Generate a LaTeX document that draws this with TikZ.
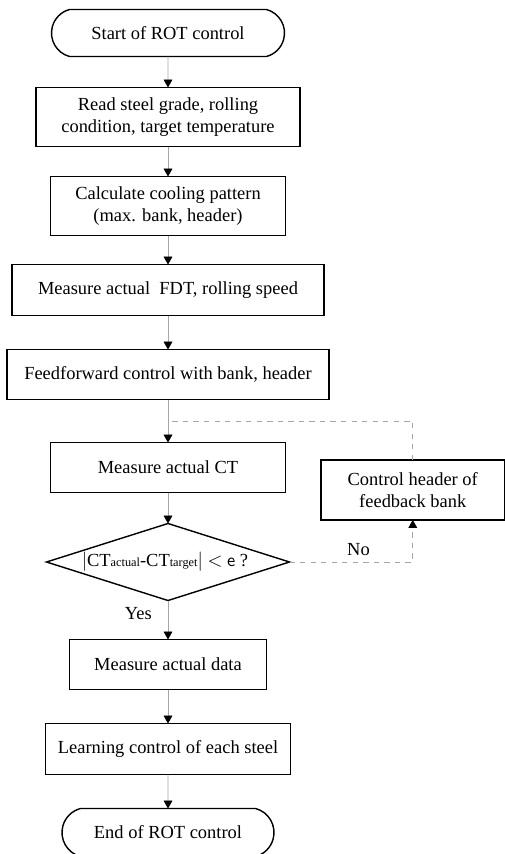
\documentclass[tikz,border=0pt]{standalone}
\usepackage{fontspec}
\setmainfont{Liberation Serif}
\usetikzlibrary{arrows.meta, calc, positioning, shapes.geometric, shapes.misc}

\tikzset{
	box/.style={draw, line width=0.8pt, align=center, inner sep=0pt, outer sep=0pt},
	term/.style={box, rounded rectangle, rounded rectangle arc length=150},
	test/.style={box, diamond, aspect=3.15},
	flow/.style={draw=black!35, line width=0.4pt, -{Triangle[length=4.5pt, width=5pt, black]}},
	back/.style={draw=black!35, line width=0.4pt, dashed},
}

\begin{document}
\begin{tikzpicture}[font=\fontsize{10.5}{12.5}\selectfont]

\useasboundingbox (0,0) rectangle (10.1,-17.08);

\node [term, minimum width=4.66cm, minimum height=0.94cm] (start) at (3.36,-0.66) {Start of ROT control};

\node [box, minimum width=5.28cm, minimum height=1.18cm, below=0.62cm of start] (read) {
	Read steel grade, rolling \\
	condition, target temperature
};

\node [box, minimum width=4.7cm, minimum height=1.18cm, below=0.6cm of read] (pattern) {
	Calculate cooling pattern \\
	(max. bank, header)
};

\node [box, minimum width=6.24cm, minimum height=1.02cm, below=0.58cm of pattern] (fdt) {Measure actual\ \ FDT, rolling speed};

\node [box, minimum width=6.44cm, minimum height=1.0cm, below=0.68cm of fdt] (ffwd) {Feedforward control with bank, header};

\node [box, minimum width=4.7cm, minimum height=1.0cm, below=0.86cm of ffwd] (ct) {Measure actual CT};

\node [test, minimum width=4.86cm, minimum height=1.54cm, below=0.62cm of ct] (check) {
	$|$CT{\scriptsize actual}-CT{\scriptsize target}$|$ $<$ {\sffamily e} ?
};

\node [box, minimum width=3.94cm, minimum height=1.0cm, below=0.78cm of check] (data) {Measure actual data};

\node [box, minimum width=4.9cm, minimum height=1.02cm, below=0.68cm of data] (learn) {Learning control of each steel};

\node [term, minimum width=4.24cm, minimum height=0.96cm, below=0.68cm of learn] (end) {End of ROT control};

\node [box, minimum width=3.67cm, minimum height=1.2cm] (fback) at (8.255,-9.8) {
	Control header of \\
	feedback bank
};

% main line
\draw [flow] (start) -- (read);
\draw [flow] (read) -- (pattern);
\draw [flow] (pattern) -- (fdt);
\draw [flow] (fdt) -- (ffwd);
\draw [flow] (ffwd) -- (ct);
\draw [flow] (ct) -- (check);
\draw [flow] (check) -- node [left, pos=0.33, xshift=-0.2cm] (yes) {Yes} (data);
\draw [flow] (data) -- (learn);
\draw [flow] (learn) -- (end);

% feedback loop
\coordinate (join) at ($(ffwd.south)!0.5!(ct.north)$);
\draw [back, -{Triangle[length=4.5pt, width=5pt, black]}] (check.east) -| node [pos=0.28, above] (no) {No} (fback.south);
\draw [back] (fback.north) |- (join);

\end{tikzpicture}
\end{document}
